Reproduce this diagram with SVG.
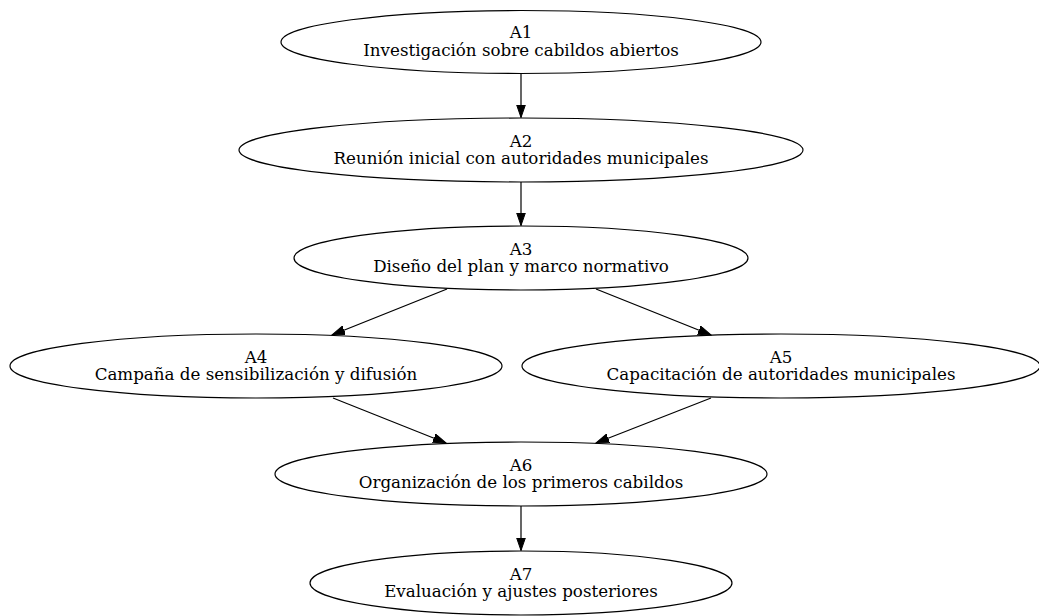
<svg xmlns="http://www.w3.org/2000/svg" width="1039" height="616" viewBox="0 0 1039 616">
<style>
.n ellipse{fill:none;stroke:#000;stroke-width:1.2}
.n text{font-family:"DejaVu Serif",serif;font-size:16.7px;text-anchor:middle;fill:#000}
.e line{stroke:#000;stroke-width:1.2}
</style>
<defs>
<marker id="ah" markerUnits="userSpaceOnUse" markerWidth="14" markerHeight="10" refX="13" refY="4.5" orient="auto">
<path d="M0,0 L13,4.5 L0,9 z" fill="#000" stroke="#000" stroke-width="1"/>
</marker>
</defs>
<rect width="1039" height="616" fill="#fff"/>
<g id="edges" class="e">
<line x1="521" y1="73" x2="521" y2="117.5" marker-end="url(#ah)"/>
<line x1="521" y1="182" x2="521" y2="225.5" marker-end="url(#ah)"/>
<line x1="447" y1="289" x2="332" y2="335" marker-end="url(#ah)"/>
<line x1="596" y1="289" x2="711" y2="335" marker-end="url(#ah)"/>
<line x1="333" y1="398" x2="446" y2="443" marker-end="url(#ah)"/>
<line x1="711" y1="398" x2="596" y2="443" marker-end="url(#ah)"/>
<line x1="521" y1="506" x2="521" y2="550.5" marker-end="url(#ah)"/>
</g>
<g id="A1" class="n"><ellipse cx="521" cy="42" rx="240" ry="31.5"/><text x="521" y="38.3">A1</text><text x="521" y="55.5">Investigación sobre cabildos abiertos</text></g>
<g id="A2" class="n"><ellipse cx="521" cy="150" rx="282" ry="32"/><text x="521" y="146.5">A2</text><text x="521" y="163.8">Reunión inicial con autoridades municipales</text></g>
<g id="A3" class="n"><ellipse cx="521" cy="258" rx="227" ry="32"/><text x="521" y="254.5">A3</text><text x="521" y="271.8">Diseño del plan y marco normativo</text></g>
<g id="A4" class="n"><ellipse cx="256" cy="366" rx="246" ry="32"/><text x="256" y="362.5">A4</text><text x="256" y="379.8">Campaña de sensibilización y difusión</text></g>
<g id="A5" class="n"><ellipse cx="781" cy="366" rx="259" ry="32"/><text x="781" y="362.5">A5</text><text x="781" y="379.8">Capacitación de autoridades municipales</text></g>
<g id="A6" class="n"><ellipse cx="521" cy="474" rx="246" ry="32"/><text x="521" y="470.5">A6</text><text x="521" y="487.8">Organización de los primeros cabildos</text></g>
<g id="A7" class="n"><ellipse cx="521" cy="583" rx="211" ry="32"/><text x="521" y="579.5">A7</text><text x="521" y="596.8">Evaluación y ajustes posteriores</text></g>
</svg>
